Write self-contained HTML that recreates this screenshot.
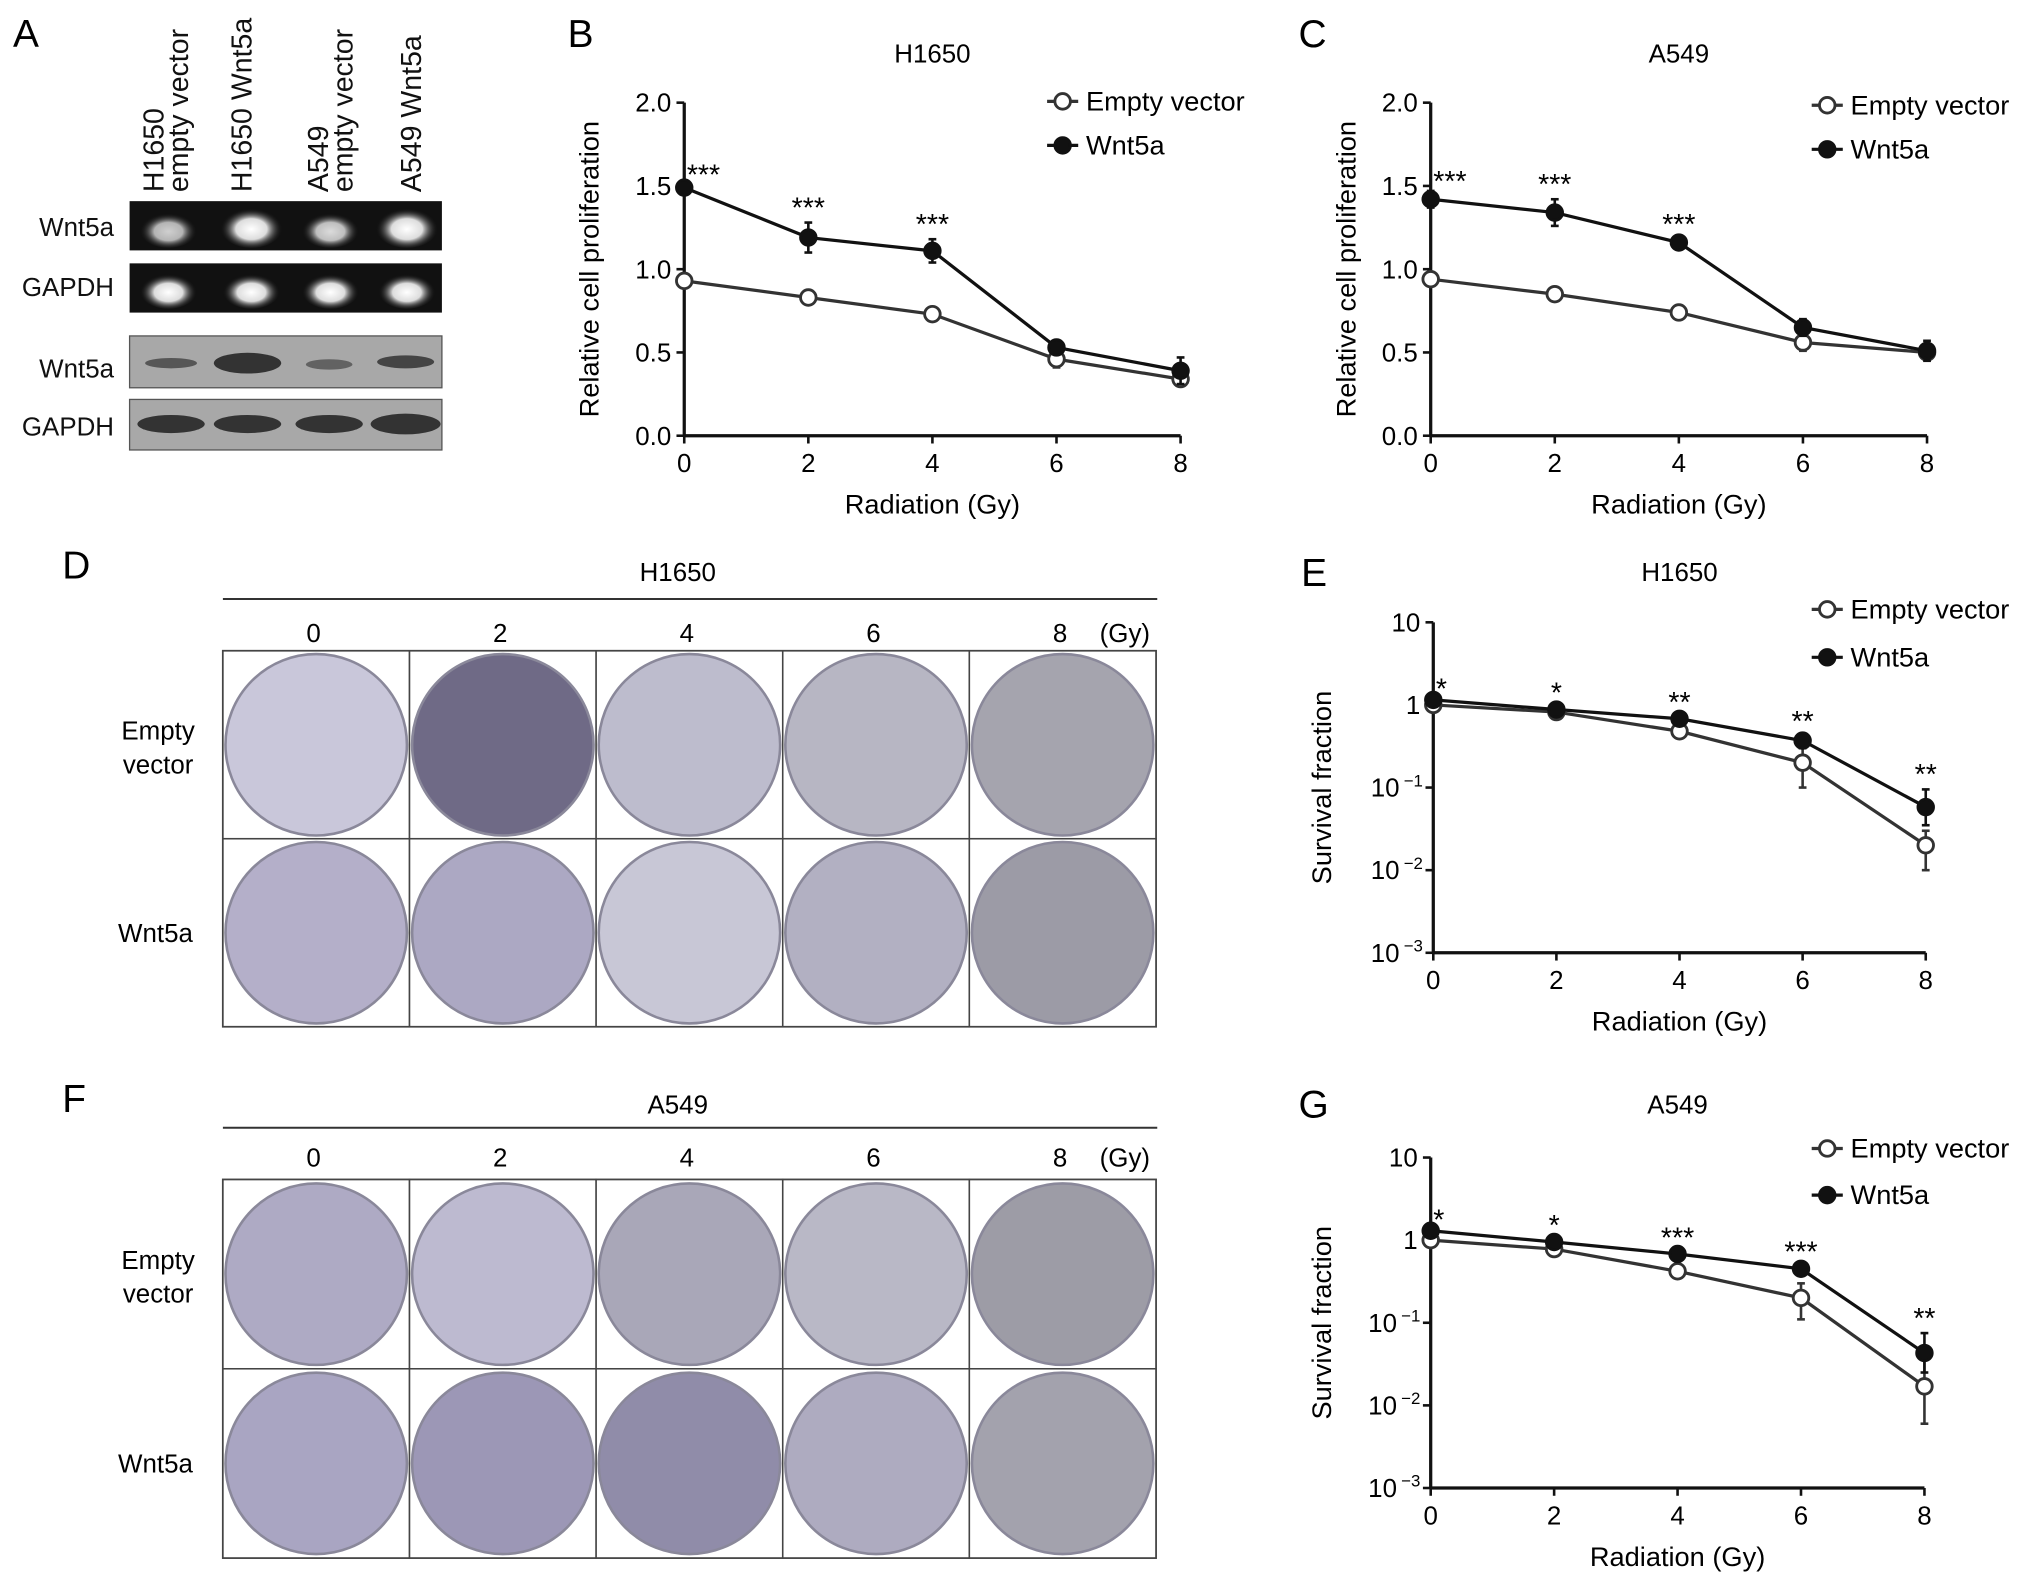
<!DOCTYPE html>
<html><head><meta charset="utf-8">
<style>
html,body{margin:0;padding:0;background:#fff;}
svg{display:block;font-family:"Liberation Sans",Arial,sans-serif;}
</style></head>
<body>
<svg id="fig" width="2032" height="1579" viewBox="0 0 1568 1218" xmlns="http://www.w3.org/2000/svg">
<rect width="1568" height="1218" fill="#fff"/>
<g id="panelA">
<text x="10" y="36" font-size="30">A</text>
<g font-size="22" fill="#111">
<text transform="translate(126,148) rotate(-90)">H1650</text>
<text transform="translate(145,148) rotate(-90)">empty vector</text>
<text transform="translate(194,148) rotate(-90)">H1650 Wnt5a</text>
<text transform="translate(253,148) rotate(-90)">A549</text>
<text transform="translate(272,148) rotate(-90)">empty vector</text>
<text transform="translate(325,148) rotate(-90)">A549 Wnt5a</text>
</g>
<g font-size="20" text-anchor="end" fill="#111">
<text x="88" y="182">Wnt5a</text>
<text x="88" y="228">GAPDH</text>
<text x="88" y="291">Wnt5a</text>
<text x="88" y="336">GAPDH</text>
</g>
<defs>
<radialGradient id="band" cx="0.5" cy="0.55" r="0.5"><stop offset="0" stop-color="#fff"/><stop offset="0.5" stop-color="#ddd"/><stop offset="1" stop-color="#111" stop-opacity="0"/></radialGradient>
</defs>
<rect x="100" y="155" width="241" height="38" fill="#111"/>
<rect x="100" y="203" width="241" height="38" fill="#111"/>
<g fill="url(#band)">
<ellipse cx="130" cy="177" rx="22" ry="14" opacity="0.8"/><ellipse cx="194" cy="175" rx="24" ry="16"/><ellipse cx="255" cy="177" rx="22" ry="14" opacity="0.85"/><ellipse cx="314" cy="175" rx="24" ry="16"/>
<ellipse cx="130" cy="224" rx="22" ry="14"/><ellipse cx="194" cy="224" rx="22" ry="14"/><ellipse cx="255" cy="224" rx="22" ry="14"/><ellipse cx="314" cy="224" rx="22" ry="14"/>
</g>
<rect x="100" y="259" width="241" height="40" fill="#a8a8a8" stroke="#555"/>
<rect x="100" y="308" width="241" height="39" fill="#a8a8a8" stroke="#555"/>
<g fill="#333">
<ellipse cx="132" cy="280" rx="20" ry="4" opacity="0.7"/><ellipse cx="191" cy="280" rx="26" ry="8"/><ellipse cx="254" cy="281" rx="18" ry="4" opacity="0.6"/><ellipse cx="313" cy="279" rx="22" ry="5" opacity="0.85"/>
<ellipse cx="132" cy="327" rx="26" ry="7"/><ellipse cx="191" cy="327" rx="26" ry="7"/><ellipse cx="254" cy="327" rx="26" ry="7"/><ellipse cx="313" cy="327" rx="27" ry="8"/>
</g>
</g>
<g id="plates"></g>
<g id="charts"></g>
</svg>
<script>
const doses = [0, 2, 4, 6, 8];
const xTicks = ['0', '2', '4', '6', '8'];
const linTicks = [0, 0.5, 1.0, 1.5, 2.0];
const linTickLabels = ['0.0', '0.5', '1.0', '1.5', '2.0'];
const logTicks = [10, 1, 0.1, 0.01, 0.001];
const logTickBase = ['10', '1', '10', '10', '10'];
const logTickExp = ['', '', '−1', '−2', '−3'];
const bEmpty = [0.93, 0.83, 0.73, 0.46, 0.34];
const bEmptyErr = [0.02, 0.02, 0.02, 0.05, 0.03];
const bWnt = [1.49, 1.19, 1.11, 0.53, 0.39];
const bWntErr = [0.02, 0.09, 0.07, 0.03, 0.08];
const bStars = ['***', '***', '***', '', ''];
const cEmpty = [0.94, 0.85, 0.74, 0.56, 0.50];
const cEmptyErr = [0.02, 0.02, 0.02, 0.05, 0.04];
const cWnt = [1.42, 1.34, 1.16, 0.65, 0.51];
const cWntErr = [0.05, 0.08, 0.02, 0.05, 0.06];
const cStars = ['***', '***', '***', '', ''];
const eEmpty = [1.0, 0.82, 0.48, 0.2, 0.02];
const eEmptyLo = [0.95, 0.78, 0.45, 0.1, 0.01];
const eEmptyHi = [1.05, 0.86, 0.52, 0.3, 0.03];
const eWnt = [1.15, 0.88, 0.68, 0.37, 0.058];
const eWntLo = [1.1, 0.84, 0.65, 0.3, 0.035];
const eWntHi = [1.2, 0.92, 0.71, 0.42, 0.095];
const eStars = ['*', '*', '**', '**', '**'];
const gEmpty = [1.0, 0.78, 0.42, 0.2, 0.017];
const gEmptyLo = [0.95, 0.74, 0.4, 0.11, 0.006];
const gEmptyHi = [1.05, 0.82, 0.45, 0.3, 0.04];
const gWnt = [1.3, 0.95, 0.68, 0.45, 0.043];
const gWntLo = [1.25, 0.9, 0.65, 0.42, 0.025];
const gWntHi = [1.35, 1.0, 0.71, 0.48, 0.075];
const gStars = ['*', '*', '***', '***', '**'];

const NS = 'http://www.w3.org/2000/svg';
const chartsG = document.getElementById('charts');
function mk(tag, attrs, parent, txt) {
  const e = document.createElementNS(NS, tag);
  for (const k in attrs) e.setAttribute(k, attrs[k]);
  if (txt !== undefined) e.textContent = txt;
  (parent || chartsG).appendChild(e);
  return e;
}

function drawChart(cfg) {
  const g = mk('g', {});
  
  
  const xS = d => cfg.x0 + (d - doses[0]) / (doses[doses.length - 1] - doses[0]) * (cfg.x1 - cfg.x0);
  const yS = cfg.log
    ? v => cfg.yBot - (Math.log10(v) - (-3)) / 4 * (cfg.yBot - cfg.yTop)
    : v => cfg.yBot - v / 2 * (cfg.yBot - cfg.yTop);
  let t = mk('text', {x: cfg.lx, y: cfg.ly, 'font-size': 30}, g, cfg.label);
  
  
  t = mk('text', {x: (cfg.x0 + cfg.x1) / 2, y: cfg.ty, 'font-size': 20, 'text-anchor': 'middle'}, g, cfg.title);
  
  
  let a = mk('line', {x1: cfg.x0, y1: cfg.yTop, x2: cfg.x0, y2: cfg.yBot, stroke: '#111', 'stroke-width': 2.5}, g);
  
  
  a = mk('line', {x1: cfg.x0, y1: cfg.yBot, x2: cfg.x1, y2: cfg.yBot, stroke: '#111', 'stroke-width': 2.5}, g);
  
  
  const yt = cfg.log ? logTicks : linTicks;
  yt.forEach((v, i) => {
    const y = yS(v);
    mk('line', {x1: cfg.x0 - 6, y1: y, x2: cfg.x0, y2: y, stroke: '#111', 'stroke-width': 2}, g);
    const tx = mk('text', {x: cfg.x0 - 10, y: y + 7, 'font-size': 20, 'text-anchor': 'end'}, g);
    
    
    if (cfg.log) {
      if (logTickExp[i]) {
        tx.setAttribute('x', cfg.x0 - 26);
        tx.textContent = logTickBase[i];
        const sup = mk('text', {x: cfg.x0 - 8, y: y - 1, 'font-size': 13, 'text-anchor': 'end'}, g, logTickExp[i]);
        
        
      } else tx.textContent = logTickBase[i];
    } else tx.textContent = linTickLabels[i];
  });
  doses.forEach((d, i) => {
    const x = xS(d);
    mk('line', {x1: x, y1: cfg.yBot, x2: x, y2: cfg.yBot + 6, stroke: '#111', 'stroke-width': 2}, g);
    const tx = mk('text', {x: x, y: cfg.yBot + 28, 'font-size': 20, 'text-anchor': 'middle'}, g, xTicks[i]);
    
    
  });
  t = mk('text', {x: (cfg.x0 + cfg.x1) / 2, y: cfg.yBot + 60, 'font-size': 21, 'text-anchor': 'middle'}, g, 'Radiation (Gy)');
  
  
  const ym = (cfg.yTop + cfg.yBot) / 2;
  t = mk('text', {x: 0, y: 0, 'font-size': 21, 'text-anchor': 'middle', transform: `translate(${cfg.ylx},${ym}) rotate(-90)`}, g, cfg.ytitle);
  
  
  const series = [
    {name: 'empty-vector', vals: cfg.empty, lo: cfg.emptyLo, hi: cfg.emptyHi, fill: '#fff', col: '#333'},
    {name: 'wnt5a', vals: cfg.wnt, lo: cfg.wntLo, hi: cfg.wntHi, fill: '#111', col: '#111'}
  ];
  series.forEach(s => {
    const sg = mk('g', {}, g);
    
    
    const pts = s.vals.map((v, i) => xS(doses[i]) + ',' + yS(v)).join(' ');
    const pl = mk('polyline', {points: pts, fill: 'none', stroke: s.col, 'stroke-width': 2.5}, sg);
    
    
    s.vals.forEach((v, i) => {
      const x = xS(doses[i]);
      const lo = s.lo[i], hi = s.hi[i];
      const eb = mk('line', {x1: x, y1: yS(lo), x2: x, y2: yS(hi), stroke: s.col, 'stroke-width': 2}, sg);
      
      
      mk('line', {x1: x - 3, y1: yS(lo), x2: x + 3, y2: yS(lo), stroke: s.col, 'stroke-width': 2}, sg);
      mk('line', {x1: x - 3, y1: yS(hi), x2: x + 3, y2: yS(hi), stroke: s.col, 'stroke-width': 2}, sg);
      const c = mk('circle', {cx: x, cy: yS(v), r: 6, fill: s.fill, stroke: s.col, 'stroke-width': 2.2}, sg);
      
      
    });
  });
  cfg.stars.forEach((s, i) => {
    if (!s) return;
    const top = Math.max(cfg.wntHi[i], cfg.emptyHi[i]);
    const st = mk('text', {x: i === 0 ? xS(doses[i]) + 2 : xS(doses[i]), y: yS(top) - 4 + (i === 0 ? 4 : 0), 'font-size': 22, 'text-anchor': i === 0 ? 'start' : 'middle'}, g, s);
    
    
  });
  const lg = mk('g', {}, g);
  
  
  [['Empty vector', '#fff', '#333', cfg.legY], ['Wnt5a', '#111', '#111', cfg.legY + cfg.legGap]].forEach(l => {
    const eg = mk('g', {}, lg);
    
    
    mk('line', {x1: cfg.legX - 12, y1: l[3], x2: cfg.legX + 12, y2: l[3], stroke: l[2], 'stroke-width': 2.5}, eg);
    mk('circle', {cx: cfg.legX, cy: l[3], r: 6, fill: l[1], stroke: l[2], 'stroke-width': 2.2}, eg);
    mk('text', {x: cfg.legX + 18, y: l[3] + 7, 'font-size': 21}, eg, l[0]);
  });
}

function errs(vals, err) { return [vals.map((v, i) => v - err[i]), vals.map((v, i) => v + err[i])]; }
const [bEL, bEH] = errs(bEmpty, bEmptyErr), [bWL, bWH] = errs(bWnt, bWntErr);
const [cEL, cEH] = errs(cEmpty, cEmptyErr), [cWL, cWH] = errs(cWnt, cWntErr);

drawChart({name: 'chart-b-h1650-proliferation', label: 'B', lx: 438, ly: 36, title: 'H1650', ty: 48,
  x0: 528, x1: 911, yTop: 79, yBot: 336, log: false, ylx: 462, ytitle: 'Relative cell proliferation',
  empty: bEmpty, emptyLo: bEL, emptyHi: bEH, wnt: bWnt, wntLo: bWL, wntHi: bWH, stars: bStars,
  legX: 820, legY: 78, legGap: 34});
drawChart({name: 'chart-c-a549-proliferation', label: 'C', lx: 1002, ly: 36, title: 'A549', ty: 48,
  x0: 1104, x1: 1487, yTop: 79, yBot: 336, log: false, ylx: 1046, ytitle: 'Relative cell proliferation',
  empty: cEmpty, emptyLo: cEL, emptyHi: cEH, wnt: cWnt, wntLo: cWL, wntHi: cWH, stars: cStars,
  legX: 1410, legY: 81, legGap: 34});
drawChart({name: 'chart-e-h1650-survival', label: 'E', lx: 1004, ly: 452, title: 'H1650', ty: 448,
  x0: 1106, x1: 1486, yTop: 480, yBot: 735, log: true, ylx: 1027, ytitle: 'Survival fraction',
  empty: eEmpty, emptyLo: eEmptyLo, emptyHi: eEmptyHi, wnt: eWnt, wntLo: eWntLo, wntHi: eWntHi, stars: eStars,
  legX: 1410, legY: 470, legGap: 37});
drawChart({name: 'chart-g-a549-survival', label: 'G', lx: 1002, ly: 862, title: 'A549', ty: 859,
  x0: 1104, x1: 1485, yTop: 893, yBot: 1148, log: true, ylx: 1027, ytitle: 'Survival fraction',
  empty: gEmpty, emptyLo: gEmptyLo, emptyHi: gEmptyHi, wnt: gWnt, wntLo: gWntLo, wntHi: gWntHi, stars: gStars,
  legX: 1410, legY: 886, legGap: 36});

const platesG = document.getElementById('plates');
const plateCols = ['0', '2', '4', '6', '8'];
const dPlateShade = [['#c9c7da', '#6f6a86', '#bdbccd', '#b7b6c3', '#a5a4ae'], ['#b4afc9', '#aca8c3', '#c8c7d6', '#b2b0c2', '#9c9ba6']];
const fPlateShade = [['#aeaac4', '#bdbad0', '#a9a7b8', '#b9b8c6', '#9d9ca6'], ['#a9a5c2', '#9c97b6', '#908ca9', '#aeabc0', '#a3a2ad']];
function drawPlates(name, label, ly, title, ty, lineY, colY, gridTop, gridBot, shades) {
  const g = mk('g', {}, platesG);
  
  
  mk('text', {x: 48, y: ly, 'font-size': 30}, g, label);
  mk('text', {x: 523, y: ty, 'font-size': 20, 'text-anchor': 'middle'}, g, title);
  mk('line', {x1: 172, y1: lineY, x2: 893, y2: lineY, stroke: '#333', 'stroke-width': 1.5}, g);
  const cw = (892 - 172) / 5;
  plateCols.forEach((c, i) => {
    mk('text', {x: 172 + cw * (i + 0.5) - 2, y: colY, 'font-size': 20, 'text-anchor': 'middle'}, g, c);
  });
  mk('text', {x: 868, y: colY, 'font-size': 20, 'text-anchor': 'middle'}, g, '(Gy)');
  const mid = (gridTop + gridBot) / 2;
  mk('text', {x: 122, y: gridTop + (mid - gridTop) / 2 - 4, 'font-size': 20, 'text-anchor': 'middle'}, g, 'Empty');
  mk('text', {x: 122, y: gridTop + (mid - gridTop) / 2 + 22, 'font-size': 20, 'text-anchor': 'middle'}, g, 'vector');
  mk('text', {x: 120, y: mid + (gridBot - mid) / 2 + 7, 'font-size': 20, 'text-anchor': 'middle'}, g, 'Wnt5a');
  mk('rect', {x: 172, y: gridTop, width: 720, height: gridBot - gridTop, fill: '#fff', stroke: '#444', 'stroke-width': 1.5}, g);
  for (let r = 0; r < 2; r++) {
    for (let i = 0; i < 5; i++) {
      const x = 172 + cw * i, y = r === 0 ? gridTop : mid, h = r === 0 ? mid - gridTop : gridBot - mid;
      const cell = mk('rect', {x: x, y: y, width: cw, height: h, fill: '#fff', stroke: '#444', 'stroke-width': 1.2}, g);
      
      
      const pc = mk('circle', {cx: x + cw / 2, cy: y + h / 2, r: Math.min(cw, h) / 2 - 2, fill: shades[r][i], stroke: '#8a889a', 'stroke-width': 2}, g);
      
      
    }
  }
}
drawPlates('panel-d-h1650-colonies', 'D', 446, 'H1650', 448, 462, 495, 502, 792, dPlateShade);
drawPlates('panel-f-a549-colonies', 'F', 858, 'A549', 859, 870, 900, 910, 1202, fPlateShade);
</script>
</body></html>
